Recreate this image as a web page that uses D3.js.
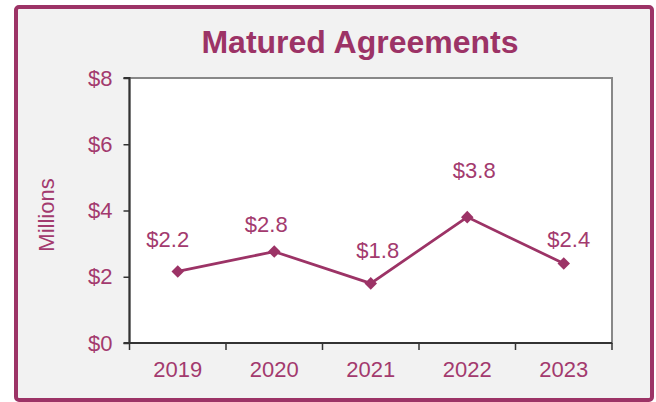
<!DOCTYPE html>
<html>
<head>
    <script src="https://d3js.org/d3.v7.min.js"></script>
    <style>
        body { margin: 0; background: #fff; }
        text { font-family: "Liberation Sans", Arial, sans-serif; }
    </style>
</head>
<body>
<script>
const years = ['2019', '2020', '2021', '2022', '2023'];
const amounts = [2.16, 2.76, 1.8, 3.8, 2.4];
const yTicks = [0, 2, 4, 6, 8];

const width = 656;
const height = 402;
const margin = { top: 78, right: 44, bottom: 59, left: 129.5 };
const purple = '#9c3366';
const labelColor = '#a33a6e';
const fontSize = 22;
// label nudges (dx, dy) relative to each point, as Excel placed them
const labelNudge = [[-10, -24], [-8, -20], [7, -25], [7, -39], [5, -17]];

const svg = d3.select('body').append('svg')
    .attr('width', width)
    .attr('height', height);

// frame
svg.append('rect')
    .attr('x', 16).attr('y', 7)
    .attr('width', 636).attr('height', 393)
    .attr('rx', 3)
    .attr('fill', '#f2f2f2')
    .attr('stroke', purple)
    .attr('stroke-width', 4);

svg.append('text')
    .attr('x', 360).attr('y', 53)
    .attr('text-anchor', 'middle')
    .attr('font-size', 32)
    .attr('font-weight', 'bold')
    .attr('fill', purple)
    .text('Matured Agreements');

const x = d3.scaleBand()
    .domain(years)
    .range([margin.left, width - margin.right]);

const y = d3.scaleLinear()
    .domain([0, 8])
    .range([height - margin.bottom, margin.top]);

// plot area
svg.append('rect')
    .attr('x', margin.left).attr('y', margin.top)
    .attr('width', width - margin.right - margin.left)
    .attr('height', height - margin.bottom - margin.top)
    .attr('fill', '#fff')
    .attr('stroke', '#888')
    .attr('stroke-width', 2);

const yAxis = svg.append('g')
    .attr('transform', `translate(${margin.left}, 0)`)
    .call(d3.axisLeft(y).tickValues(yTicks).tickSize(6).tickPadding(11).tickFormat(d => '$' + d));

const xAxis = svg.append('g')
    .attr('transform', `translate(0, ${height - margin.bottom})`)
    .call(d3.axisBottom(x).tickSize(0).tickPadding(18));

// category separators on the x axis
xAxis.selectAll('.sep')
    .data(years.map(d => x(d)).concat([x(years[years.length - 1]) + x.bandwidth()]))
    .join('line')
    .attr('class', 'sep')
    .attr('x1', d => d).attr('x2', d => d)
    .attr('y1', 0).attr('y2', 7)
    .attr('stroke', '#333')
    .attr('stroke-width', 1.5);

[yAxis, xAxis].forEach(g => {
    g.select('.domain').attr('stroke', '#333').attr('stroke-width', 2);
    g.selectAll('.tick line').attr('stroke', '#333').attr('stroke-width', 1.5);
    g.selectAll('text')
        .attr('font-size', fontSize)
        .attr('fill', labelColor)
        .style('font-family', '"Liberation Sans", Arial, sans-serif');
});
yAxis.select('.domain').attr('d', `M-6,${y(0)}H0V${y(8)}H-6`);
xAxis.select('.domain').attr('d', `M${margin.left},0H${width - margin.right}`);

svg.append('text')
    .attr('transform', `translate(54, 215) rotate(-90)`)
    .attr('text-anchor', 'middle')
    .attr('font-size', fontSize)
    .attr('fill', labelColor)
    .text('Millions');

const data = years.map((d, i) => ({ year: d, value: amounts[i], nudge: labelNudge[i] }));
const cx = d => x(d.year) + x.bandwidth() / 2;

svg.append('path')
    .datum(data)
    .attr('fill', 'none')
    .attr('stroke', purple)
    .attr('stroke-width', 2.75)
    .attr('d', d3.line().x(cx).y(d => y(d.value)));

svg.selectAll('.marker')
    .data(data)
    .join('path')
    .attr('class', 'marker')
    .attr('transform', d => `translate(${cx(d)}, ${y(d.value)})`)
    .attr('d', d3.symbol(d3.symbolDiamond2, 100)())
    .attr('fill', purple);

svg.selectAll('.label')
    .data(data)
    .join('text')
    .attr('class', 'label')
    .attr('x', d => cx(d) + d.nudge[0])
    .attr('y', d => y(d.value) + d.nudge[1])
    .attr('text-anchor', 'middle')
    .attr('font-size', fontSize)
    .attr('fill', labelColor)
    .text(d => '$' + d.value.toFixed(1));
</script>
</body>
</html>
